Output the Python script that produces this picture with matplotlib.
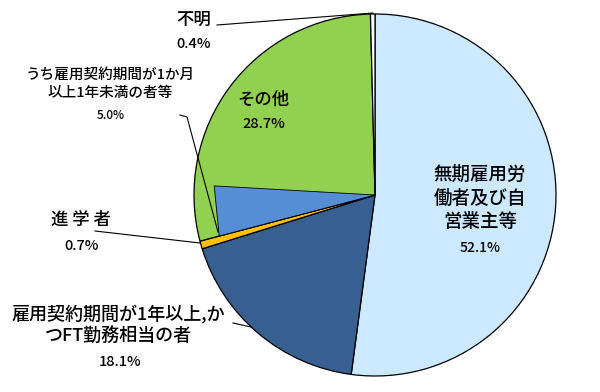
import matplotlib
matplotlib.use("Agg")
import numpy as np
import matplotlib.pyplot as plt
from matplotlib.patches import Polygon

plt.rcParams['font.family'] = ['Noto Sans CJK JP', 'DejaVu Sans']

# data (percent)
labels = ['無期雇用労働者及び自営業主等', '雇用契約期間が1年以上,かつFT勤務相当の者',
          '進学者', 'その他', '不明']
values = [52.1, 18.1, 0.7, 28.7, 0.4]
colors = ['#CCE9FF', '#375F8F', '#FFC000', '#92D050', '#FFFFFF']
sub_label = 'うち雇用契約期間が1か月以上1年未満の者等'
sub_value = 5.0   # part of その他
sub_color = '#558ED5'

W, H = 600, 392
fig = plt.figure(figsize=(6, 3.92), dpi=100)
ax = fig.add_axes([0, 0, 1, 1])

cx, cy, R = 375, H - 195, 181
ax.pie(values, colors=colors, startangle=90, counterclock=False,
       center=(cx, cy), radius=R,
       wedgeprops=dict(edgecolor='black', linewidth=0.9))

# inner sub-slice drawn over the start of その他
start = sum(values[:3])
a0 = np.deg2rad(90 - 3.6 * start)
a1 = np.deg2rad(90 - 3.6 * (start + sub_value))
r = 0.89 * R
tri = Polygon([(cx, cy), (cx + r * np.cos(a0), cy + r * np.sin(a0)),
               (cx + r * np.cos(a1), cy + r * np.sin(a1))],
              closed=True, facecolor=sub_color, edgecolor='black', linewidth=0.6)
ax.add_patch(tri)

ax.set_xlim(0, W)
ax.set_ylim(0, H)
ax.set_aspect('equal')
ax.axis('off')


def txt(x, y, s, size, ls=1.2):
    ax.text(x, H - y, s, fontsize=size, ha='center', va='center',
            linespacing=ls, color='black', fontweight='medium')


def leader(pts):
    xs = [p[0] for p in pts]
    ys = [H - p[1] for p in pts]
    ax.plot(xs, ys, color='black', lw=0.8)


# labels
txt(480, 198, '無期雇用労\n働者及び自\n営業主等', 13.3, 1.28)
txt(480, 248, f'{values[0]}%', 10)

txt(263, 100, 'その他', 12.5)
txt(264, 124, f'{values[3]}%', 10.5)

txt(194, 20, '不明', 12.5)
txt(194, 44, f'{values[4]}%', 10.5)
leader([(217, 25), (373, 13)])

txt(110, 84, 'うち雇用契約期間が1か月\n以上1年未満の者等', 10.5, 1.4)
txt(111, 115, f'{sub_value}%', 8.5)
leader([(180, 115), (187, 117), (218, 232)])

txt(81, 220, '進 学 者', 12.5)
txt(82, 246, f'{values[2]}%', 10.5)
leader([(95, 231), (200, 243)])

txt(118, 325, '雇用契約期間が1年以上,か\nつFT勤務相当の者', 13, 1.3)
txt(120, 362, f'{values[1]}%', 10.5)
leader([(233, 323), (251, 327)])

fig.savefig('out.png', dpi=100)
